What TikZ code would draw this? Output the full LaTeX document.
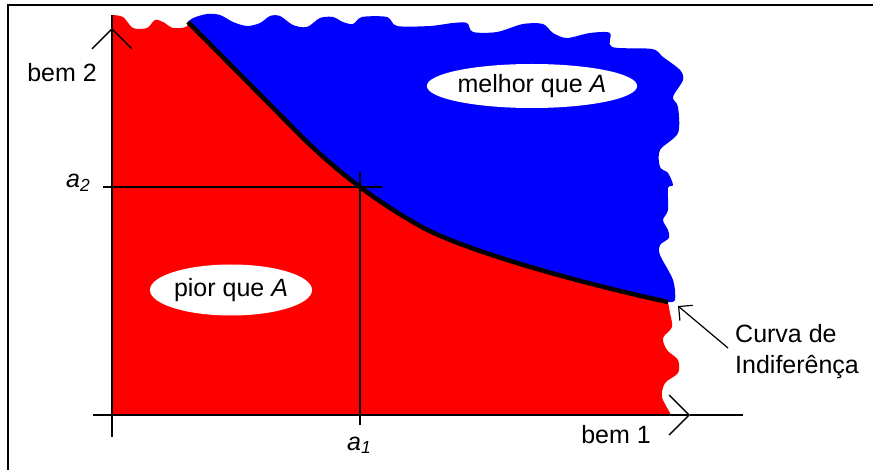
\documentclass[tikz,border=0pt]{standalone}
\usepackage{fontspec}
\setmainfont{Liberation Sans}
\usetikzlibrary{arrows.meta,shapes.geometric}
\definecolor{PrefRed}{HTML}{FF0000}
\definecolor{PrefBlue}{HTML}{0000FF}
\definecolor{PrefInk}{HTML}{000000}
\begin{document}
\begin{tikzpicture}[x=1pt,y=-1pt,
    txt/.style={font=\fontsize{25}{31}\selectfont,text=PrefInk,inner sep=0pt},
    regionlbl/.style={txt,ellipse,fill=white,inner sep=0pt},
    axisline/.style={PrefInk,line width=1.3pt},
    axistip/.style={axisline,-{Straight Barb[length=20pt,width=40pt]}},
    pointer/.style={PrefInk,line width=1.2pt,-{Straight Barb[length=10pt,width=20pt]}}]
  \useasboundingbox (0,0) rectangle (873,470);
  % frame
  \draw[PrefInk,line width=1.6pt] (8,470) -- (8,5) -- (873,5);
  % preferred set (drawn first, the red set covers its lower part)
  \fill[PrefBlue] (188,22) -- plot[smooth,tension=0.5] coordinates {(188,22) (193,18)
    (207,14) (220,15) (233,22) (247,26) (260,23) (270,16) (280,16) (293,25) (307,27)
    (320,18) (333,17) (343,22) (353,24) (362,17) (387,17) (397,26) (430,26) (453,23)
    (467,23) (473,32) (497,32) (523,24) (543,24) (553,33) (567,38) (590,33) (610,33)
    (612,47) (652,49) (663,57) (680,70) (683,80) (673,97) (678,107) (678,133) (660,150)
    (660,167) (668,173) (673,185) (668,188) (668,210) (663,220) (668,230) (669,238)
    (660,245) (660,255) (673,280) (675,300) (668,302)}
    -- (400,380) -- (188,300) -- cycle;
  % worse set
  \fill[PrefRed] (112,415) -- plot[smooth,tension=0.5] coordinates {(112,15) (123,17)
    (133,28) (147,28) (155,20) (163,22) (173,28) (186,27) (188,22)}
    -- (300,135) .. controls (330,165) and (370,198) .. (420,226)
    .. controls (465,251) and (580,283) .. (668,302)
    -- plot[smooth,tension=0.5] coordinates {(668,302) (670,313) (672,327) (663,338)
    (667,350) (678,360) (678,373) (665,383) (662,397) (670,413) (670,415)}
    -- cycle;
  % labels of the two sets
  \node[regionlbl,minimum width=200pt,minimum height=44pt] (melhor) at (532,86)
    {melhor que \textit{A}};
  \node[regionlbl,minimum width=162pt,minimum height=51pt] (pior) at (231,290)
    {pior que \textit{A}};
  % indifference curve
  \draw[PrefInk,line width=4.5pt] (188,22) -- (300,135)
    .. controls (330,165) and (370,198) .. (420,226)
    .. controls (465,251) and (580,283) .. (668,302);
  % axes
  \coordinate (O) at (112,415);
  \coordinate (ytip) at (112,28);
  \coordinate (xtip) at (690,415);
  \draw[axisline] (112,437) -- (O);
  \draw[axistip] (O) -- (ytip);
  \draw[axisline] (ytip) -- (112,15);
  \draw[axisline] (93,415) -- (O);
  \draw[axistip] (O) -- (xtip);
  \draw[axisline] (xtip) -- (743,415);
  % bundle A
  \coordinate (A) at (360,187);
  \draw[axisline] (103,187) -- (A) -- (382,187);
  \draw[axisline] (360,425) -- (A) -- (360,172);
  \node[txt,anchor=base] (bemdois) at (62,82) {bem 2};
  \node[txt,anchor=base] (bemum) at (616,443) {bem 1};
  \node[txt,anchor=base west] (adois) at (66,188) {\textit{a}\textsubscript{\textit{2}}};
  \node[txt,anchor=base west] (aum) at (347,450) {\textit{a}\textsubscript{\textit{1}}};
  \node[txt,anchor=west,align=left] (curva) at (735,352) {Curva de\\Indiferênça};
  \coordinate (ciend) at (678,306);
  \draw[pointer] ([xshift=-7pt,yshift=4pt]curva.west) -- (ciend);
\end{tikzpicture}
\end{document}
